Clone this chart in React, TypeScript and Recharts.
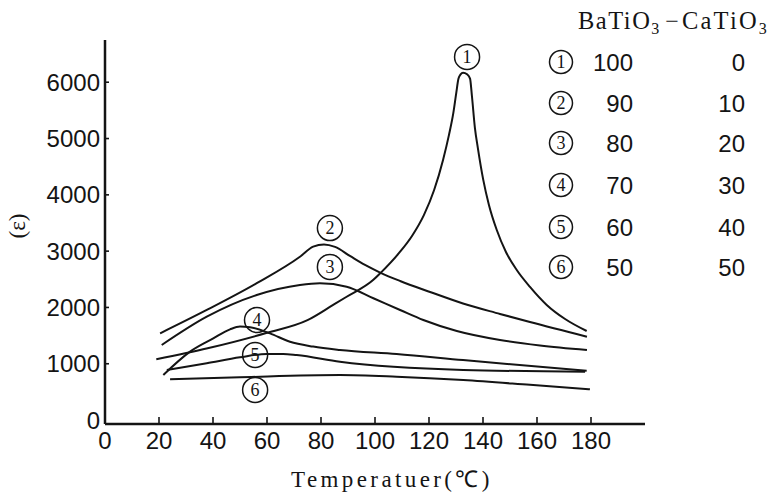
import React from 'react';
import { LineChart, Line, XAxis, YAxis, ReferenceDot } from 'recharts';

// Tick labels
const xTicks = [0, 20, 40, 60, 80, 100, 120, 140, 160, 180];
const yTicks = [0, 1000, 2000, 3000, 4000, 5000, 6000];

// Curve ① BaTiO3 100 / CaTiO3 0
const temp1 = [19, 38, 60, 75, 84.5, 89.5, 99.4, 101.9, 109.3, 113.7, 118.1, 121.9, 125.2, 127.4, 129.0, 130.1, 130.9, 131.7, 132.6, 134.1, 135.2, 135.9, 137.0, 138.1, 140.1, 142.2, 145.1, 148.5, 152.5, 157.4, 163.6, 170.4, 178.4];
const eps1 = [1080, 1275, 1550, 1775, 2045, 2190, 2490, 2605, 2990, 3270, 3640, 4085, 4620, 5065, 5450, 5810, 6060, 6140, 6170, 6140, 6065, 5755, 5190, 4830, 4265, 3820, 3375, 2985, 2665, 2365, 2045, 1795, 1582];

// Curve ② 90 / 10
const temp2 = [20.4, 37.7, 56.2, 72.2, 77.1, 81.1, 85.2, 90.7, 96.3, 101.9, 109.3, 120.4, 132.6, 146.3, 157.4, 178.5];
const eps2 = [1540, 1955, 2430, 2900, 3080, 3120, 3075, 2915, 2755, 2620, 2470, 2275, 2070, 1885, 1740, 1480];

// Curve ③ 80 / 20
const temp3 = [21, 37.7, 56.2, 72.2, 79.6, 89.5, 99.4, 109.3, 117.9, 130.3, 146.3, 161.1, 178.5];
const eps3 = [1333, 1836, 2221, 2399, 2429, 2369, 2163, 1955, 1777, 1582, 1422, 1324, 1244];

// Curve ④ 70 / 30
const temp4 = [21.6, 31.5, 40.1, 46.3, 50, 53.7, 61.1, 68.5, 77.1, 87, 108, 132.6, 178.4];
const eps4 = [800, 1215, 1450, 1610, 1660, 1650, 1540, 1390, 1305, 1245, 1173, 1065, 875];

// Curve ⑤ 60 / 40
const temp5 = [22.9, 37.7, 50, 59.9, 66, 71, 87, 132.7, 177.8];
const eps5 = [890, 1010, 1115, 1175, 1175, 1155, 1035, 890, 860];

// Curve ⑥ 50 / 50
const temp6 = [24.1, 50, 87, 108, 132.7, 157.4, 179.6];
const eps6 = [725, 760, 800, 770, 710, 625, 545];

// Curve label anchors (temperature, permittivity)
const labelIds = [1, 2, 3, 4, 5, 6];
const labelTemp = [134.1, 83.3, 83.3, 56.3, 55.6, 55.6];
const labelEps = [6450, 3410, 2720, 1777, 1156, 534];

// Legend table
const legendIds = [1, 2, 3, 4, 5, 6];
const legendBa = [100, 90, 80, 70, 60, 50];
const legendCa = [0, 10, 20, 30, 40, 50];

const zip = (t: number[], e: number[]) => t.map((x, i) => ({ x, y: e[i] }));
const series = [
  zip(temp1, eps1),
  zip(temp2, eps2),
  zip(temp3, eps3),
  zip(temp4, eps4),
  zip(temp5, eps5),
  zip(temp6, eps6),
];

const INK = '#141414';
const SANS = "'Liberation Sans', Arial, sans-serif";
const SERIF = "'Liberation Serif', 'Times New Roman', serif";

const Circled = ({ cx, cy, n, r = 12, fs = 18 }: any) => (
  <g>
    <circle cx={cx} cy={cy} r={r} fill="none" stroke={INK} strokeWidth={1.5} />
    <text x={cx} y={cy + fs * 0.34} textAnchor="middle" fontFamily={SERIF} fontSize={fs} fill={INK}>
      {n}
    </text>
  </g>
);

const XTick = (props: any) => {
  const { x, y, payload } = props;
  return (
    <g>
      {payload.value !== 0 && <line x1={x} x2={x} y1={y} y2={y - 7} stroke={INK} strokeWidth={1.6} />}
      <text x={x} y={y + 25} textAnchor="middle" fontFamily={SANS} fontSize={24} fill={INK}>
        {payload.value}
      </text>
    </g>
  );
};

const YTick = (props: any) => {
  const { x, y, payload } = props;
  return (
    <g>
      {payload.value !== 0 && <line x1={x} x2={x + 4} y1={y} y2={y} stroke={INK} strokeWidth={1.6} />}
      <text x={x - 5} y={y + 8.5} textAnchor="end" fontFamily={SANS} fontSize={24} fill={INK}>
        {payload.value}
      </text>
    </g>
  );
};

const rowY = [62, 103, 143, 185, 227, 267];

export default function App() {
  return (
    <div style={{ position: 'fixed', left: 0, top: 0, width: 772, height: 494, background: '#fff' }}>
      <LineChart width={772} height={494} margin={{ top: 40, right: 127, bottom: 40, left: 45 }}>
        <XAxis
          type="number"
          dataKey="x"
          domain={[0, 200]}
          ticks={xTicks}
          allowDataOverflow
          tickSize={0}
          tickMargin={0}
          height={30}
          axisLine={{ stroke: INK, strokeWidth: 2.5 }}
          tickLine={false}
          tick={<XTick />}
          interval={0}
        />
        <YAxis
          type="number"
          dataKey="y"
          domain={[-70, 6750]}
          ticks={yTicks}
          allowDataOverflow
          tickSize={0}
          tickMargin={0}
          width={60}
          axisLine={{ stroke: INK, strokeWidth: 2.5 }}
          tickLine={false}
          tick={<YTick />}
          interval={0}
        />
        {series.map((d, i) => (
          <Line
            key={i}
            data={d}
            dataKey="y"
            type="monotone"
            dot={false}
            stroke={INK}
            strokeWidth={2}
            isAnimationActive={false}
          />
        ))}
        {labelIds.map((n, i) => (
          <ReferenceDot
            key={'l' + n}
            x={labelTemp[i]}
            y={labelEps[i]}
            r={0}
            ifOverflow="visible"
            shape={(p: any) => <Circled cx={p.cx} cy={p.cy} n={n} r={12.5} />}
          />
        ))}
      </LineChart>
      <svg width={772} height={494} style={{ position: 'absolute', left: 0, top: 0, pointerEvents: 'none' }}>
        <text
          x={392}
          y={487}
          textAnchor="middle"
          fontFamily={SERIF}
          fontSize={23}
          letterSpacing={3.4}
          fill={INK}
        >
          Temperatuer(℃)
        </text>
        <text
          x={0}
          y={0}
          transform="translate(25 226) rotate(-90)"
          textAnchor="middle"
          fontFamily={SERIF}
          fontSize={23}
          fill={INK}
        >
          (ε)
        </text>
        <text x={578} y={29} fontFamily={SERIF} fontSize={24.5} letterSpacing={1.5} fill={INK}>
          BaTiO<tspan fontSize={16} dy={5}>3</tspan>
        </text>
        <text x={672} y={29} textAnchor="middle" fontFamily={SERIF} fontSize={24} fill={INK}>
          −
        </text>
        <text x={682} y={29} fontFamily={SERIF} fontSize={24.5} letterSpacing={2.2} fill={INK}>
          CaTiO<tspan fontSize={16} dy={5}>3</tspan>
        </text>
        {legendIds.map((n, i) => (
          <g key={'g' + n}>
            <Circled cx={561} cy={rowY[i]} n={n} r={11.5} />
            <text x={633} y={rowY[i] + 8.5} textAnchor="end" fontFamily={SANS} fontSize={24} fill={INK}>
              {legendBa[i]}
            </text>
            <text x={745} y={rowY[i] + 8.5} textAnchor="end" fontFamily={SANS} fontSize={24} fill={INK}>
              {legendCa[i]}
            </text>
          </g>
        ))}
      </svg>
    </div>
  );
}
